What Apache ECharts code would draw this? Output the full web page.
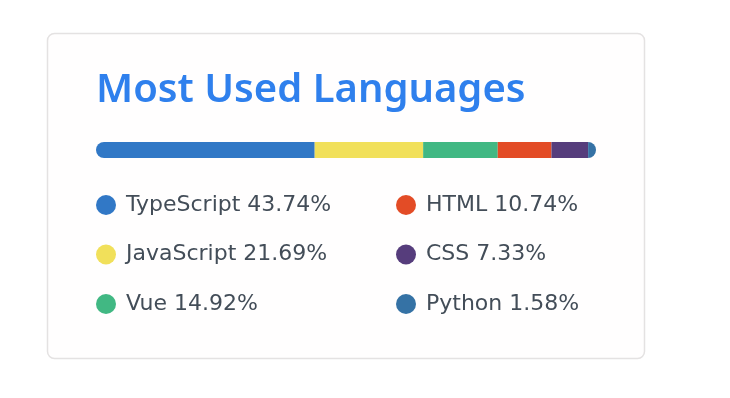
<!DOCTYPE html>
<html>
<head>
<meta charset="utf-8">
<script src="https://cdn.jsdelivr.net/npm/echarts@6/dist/echarts.min.js"></script>
<style>
html,body{margin:0;padding:0;background:#ffffff;}
#chart{width:730px;height:398px;}
</style>
</head>
<body>
<div id="chart"></div>
<script>
var languages = ['TypeScript', 'JavaScript', 'Vue', 'HTML', 'CSS', 'Python'];
var percents = [43.74, 21.69, 14.92, 10.74, 7.33, 1.58];
var colors = ['#3178c6', '#f1e05a', '#41b883', '#e34c26', '#563d7c', '#3572a5'];
var titleText = 'Most Used Languages';

var chart = echarts.init(document.getElementById('chart'), null, {renderer: 'canvas'});
var FONT = '"Noto Sans", Inter, sans-serif';
var LFONT = '"DejaVu Sans", "Noto Sans", sans-serif';
var series = languages.map(function (name, i) {
  var r = [0, 0, 0, 0];
  if (i === 0) r = [8, 0, 0, 8];
  if (i === languages.length - 1) r = [0, 8, 8, 0];
  return {
    name: name,
    type: 'bar',
    stack: 'total',
    barWidth: 16,
    silent: true,
    itemStyle: {color: colors[i], borderRadius: r},
    data: [percents[i]]
  };
});
function fmt(name) {
  var i = languages.indexOf(name);
  return name + ' ' + percents[i].toFixed(2) + '%';
}
var legendBase = {
  orient: 'vertical',
  icon: 'circle',
  itemWidth: 20,
  itemHeight: 20,
  itemGap: 27.5,
  top: 194,
  padding: 0,
  formatter: fmt,
  selectedMode: false,
  textStyle: {fontFamily: LFONT, fontSize: 22, color: '#434d58', padding: [0, 0, 0, 5], lineHeight: 20}
};
chart.setOption({
  animation: false,
  color: colors,
  title: {
    text: titleText,
    left: 91,
    top: 66,
    textStyle: {fontFamily: FONT, fontSize: 40, fontWeight: 600, color: '#2f80ed'}
  },
  graphic: [{
    type: 'rect',
    z: -10,
    shape: {x: 47.5, y: 33.5, width: 597, height: 325, r: 7},
    style: {fill: '#fffefe', stroke: '#e4e2e2', lineWidth: 1.5}
  }],
  legend: [
    Object.assign({}, legendBase, {left: 96, data: languages.slice(0, 3)}),
    Object.assign({}, legendBase, {left: 396, data: languages.slice(3, 6)})
  ],
  grid: {left: 96, top: 142, width: 500, height: 16},
  xAxis: {type: 'value', min: 0, max: 100, show: false},
  yAxis: {type: 'category', data: ['languages'], show: false},
  series: series
});
</script>
</body>
</html>
